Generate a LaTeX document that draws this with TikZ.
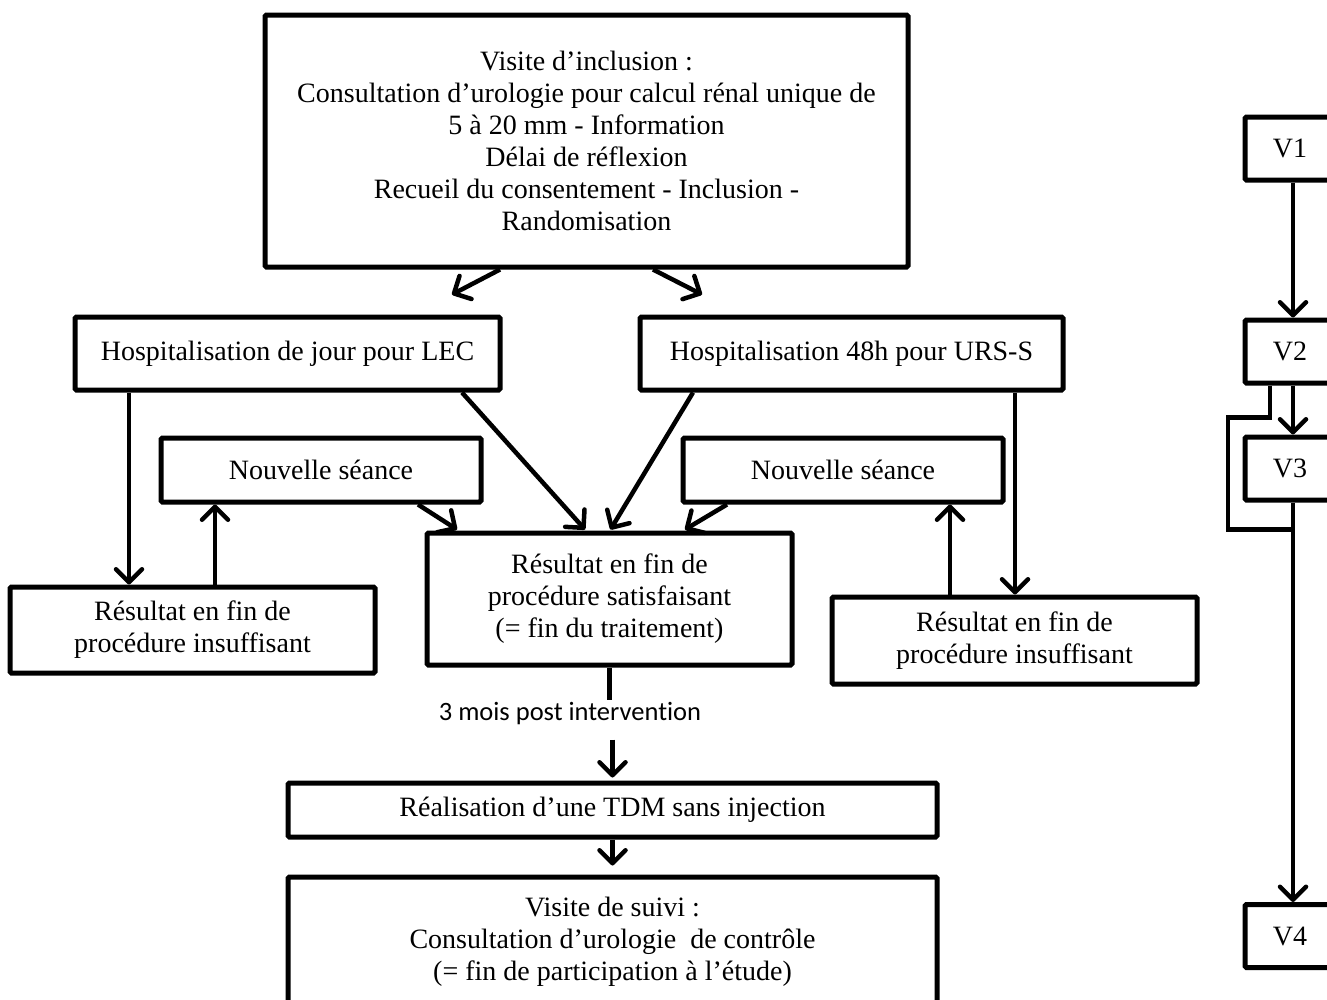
\documentclass[tikz,border=0pt]{standalone}
\usepackage{fontspec}
\setmainfont{Liberation Serif}
\newfontfamily\lblfont[Ligatures=NoCommon]{Carlito}
\usetikzlibrary{arrows.meta}
\begin{document}
\begin{tikzpicture}[x=1pt,y=-1pt,
  box/.style={draw, line width=5pt, rounded corners=1.5pt, align=center, inner sep=0pt, font=\fontsize{28}{32}\selectfont},
  arr/.style={line width=4.5pt, -{Straight Barb[length=13pt,width=26pt,round]}},
  ln/.style={line width=4.5pt}]
\useasboundingbox (0,0) rectangle (1327,999);
\clip (0,0) rectangle (1327,999);
% main flow
\node[box, minimum width=643pt, minimum height=252pt] (top) at (586.5,141)
  {Visite d’inclusion :\\Consultation d’urologie pour calcul rénal unique de\\5 à 20 mm - Information\\Délai de réflexion\\Recueil du consentement - Inclusion -\\Randomisation};
\node[box, minimum width=425pt, minimum height=73pt] (lec) at (287.5,353.5) {Hospitalisation de jour pour LEC};
\node[box, minimum width=423pt, minimum height=73pt] (urs) at (851.5,353.5) {Hospitalisation 48h pour URS-S};
\node[box, minimum width=320pt, minimum height=64pt] (ns1) at (321,470) {Nouvelle séance};
\node[box, minimum width=320pt, minimum height=64pt] (ns2) at (843,470) {Nouvelle séance};
\node[box, minimum width=365pt, minimum height=132pt] (sat) at (609.5,599) {Résultat en fin de\\procédure satisfaisant\\(= fin du traitement)};
\node[box, minimum width=365pt, minimum height=86pt] (ins1) at (192.5,630) {Résultat en fin de\\procédure insuffisant};
\node[box, minimum width=365pt, minimum height=87pt] (ins2) at (1014.5,640.5) {Résultat en fin de\\procédure insuffisant};
\node[font=\lblfont\fontsize{26.5}{30}\selectfont, inner sep=0pt] (lbl) at (570,714) {3 mois post intervention};
\node[box, minimum width=649pt, minimum height=54pt] (tdm) at (612.5,810) {Réalisation d’une TDM sans injection};
\node[box, minimum width=649pt, minimum height=130pt] (suivi) at (612.5,942) {Visite de suivi :\\Consultation d’urologie\ \ de contrôle\\(= fin de participation à l’étude)};
% right timeline
\node[box, minimum width=90pt, minimum height=63pt] (v1) at (1290,148.5) {V1};
\node[box, minimum width=90pt, minimum height=63pt] (v2) at (1290,351.5) {V2};
\node[box, minimum width=90pt, minimum height=63pt] (v3) at (1290,468.5) {V3};
\node[box, minimum width=90pt, minimum height=63pt] (v4) at (1290,936) {V4};
% connectors main
\draw[arr] ([xshift=-86.5pt]top.south) -- ([xshift=164.5pt,yshift=20pt]lec.north);
\draw[arr] ([xshift=66.5pt]top.south) -- ([xshift=-149.5pt,yshift=20pt]urs.north);
\draw[arr] ([xshift=174.5pt]lec.south) -- ([xshift=-24.5pt,yshift=1pt]sat.north);
\draw[arr] ([xshift=-158.5pt]urs.south) -- ([xshift=1pt,yshift=1pt]sat.north);
\draw[arr] ([xshift=97pt]ns1.south) -- ([xshift=-152.5pt,yshift=1pt]sat.north);
\draw[arr] ([xshift=-116pt]ns2.south) -- ([xshift=75.5pt,yshift=1pt]sat.north);
\draw[arr] ([xshift=-158.5pt]lec.south) -- ([xshift=-158.5pt]lec.south |- ins1.north);
\draw[arr] ([xshift=22.5pt]ins1.north) -- ([xshift=22.5pt]ins1.north |- ns1.south);
\draw[arr] ([xshift=163.5pt]urs.south) -- ([xshift=163.5pt]urs.south |- ins2.north);
\draw[arr] ([xshift=-64.5pt]ins2.north) -- ([xshift=-64.5pt]ins2.north |- ns2.south);
\draw[ln] (sat.south) -- ([yshift=-32pt]sat.south);
\draw[arr] ([yshift=41pt]tdm.north) -- ([yshift=3pt]tdm.north);
\draw[arr] (tdm.south) -- ([yshift=9pt]suivi.north);
% connectors right
\coordinate (bx) at (1228,0);
\draw[arr] ([xshift=3pt]v1.south) -- ([xshift=3pt]v2.north);
\draw[arr] ([xshift=3pt]v2.south) -- ([xshift=3pt]v3.north);
\draw[arr] ([xshift=3pt]v3.south) -- ([xshift=3pt]v4.north);
\draw[ln] ([xshift=-20pt]v2.south) -- ++(0,32) -| ([yshift=-27pt]v3.south -| bx) -- ([xshift=3pt,yshift=-27pt]v3.south);
\end{tikzpicture}
\end{document}
